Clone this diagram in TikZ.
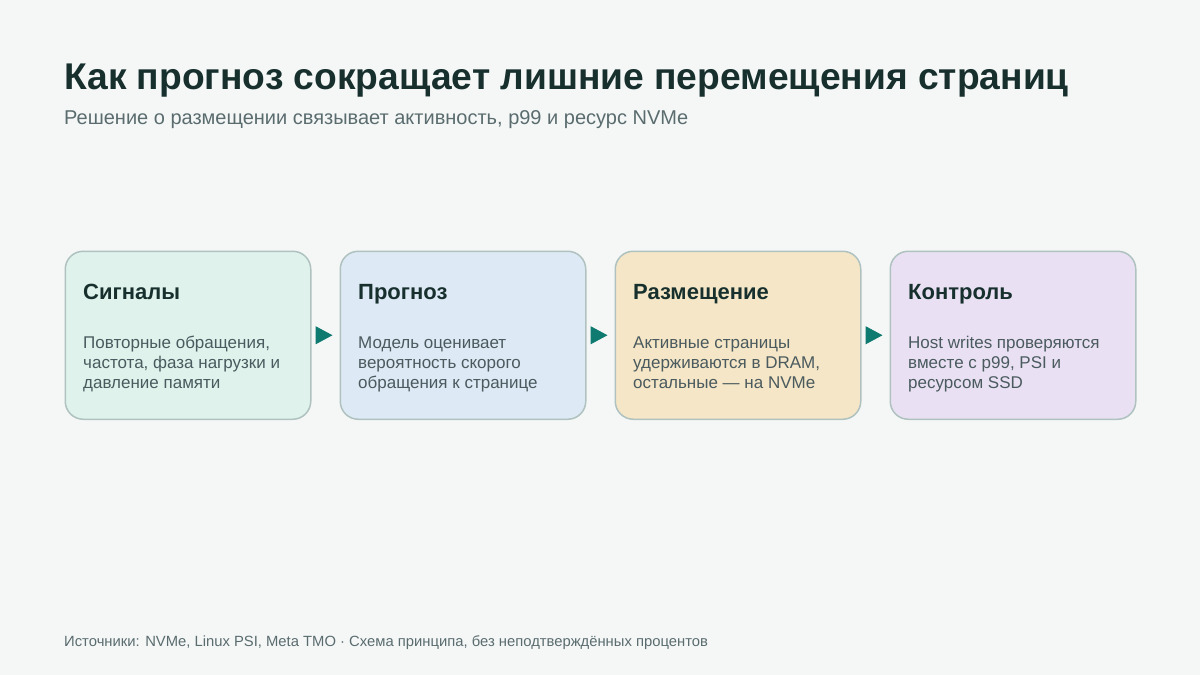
\documentclass[tikz,border=0pt]{standalone}
\usepackage{fontspec}
\setmainfont{Liberation Sans}
\usetikzlibrary{arrows.meta,positioning,calc}

\definecolor{pagebg}{HTML}{F5F7F7}
\definecolor{titlecol}{HTML}{17302E}
\definecolor{subcol}{HTML}{5A6C6E}
\definecolor{bodycol}{HTML}{4A5A5E}
\definecolor{framecol}{HTML}{AFC2BF}
\definecolor{arrowcol}{HTML}{0F7A70}
\definecolor{signalfill}{HTML}{DFF3EC}
\definecolor{forecastfill}{HTML}{DDE9F4}
\definecolor{placefill}{HTML}{F4E6C6}
\definecolor{controlfill}{HTML}{E9E1F3}

\tikzset{
  stagebox/.style={draw=framecol,line width=1.5pt,rounded corners=18pt,
    minimum width=245.5pt,minimum height=168pt,inner sep=0pt},
  stagehead/.style={anchor=base west,inner sep=0pt,text=titlecol,
    font=\fontsize{22}{26}\selectfont\bfseries},
  stagetext/.style={anchor=base west,inner sep=0pt,text=bodycol,align=left,
    font=\fontsize{17}{20}\selectfont},
  flow/.style={-{Triangle[length=17pt,width=18pt]},arrowcol,line width=1pt,
    shorten <=4pt,shorten >=7pt}
}

\begin{document}
\begin{tikzpicture}[x=1pt,y=-1pt]
	\useasboundingbox[fill=pagebg] (0,0) rectangle (1200,675);
	
	% Title and subtitle
	\node[anchor=base west,inner sep=0pt,text=titlecol,
	  font=\fontsize{37.2}{43}\selectfont\bfseries] (title) at (64,89)
	  {Как прогноз сокращает лишние перемещения страниц};
	\node[anchor=base west,inner sep=0pt,text=subcol,
	  font=\fontsize{20}{24}\selectfont] (subtitle) at (64,124)
	  {Решение о размещении связывает активность, p99 и ресурс NVMe};
	
	% Stages
	\node[stagebox,fill=signalfill,anchor=north west] (signals) at (64.5,250.5) {};
	\node[stagebox,fill=forecastfill,right=28pt of signals] (forecast) {};
	\node[stagebox,fill=placefill,right=28pt of forecast] (placement) {};
	\node[stagebox,fill=controlfill,right=28pt of placement] (control) {};
	
	% Headings
	\node[stagehead] at ($(signals.north west)+(18.5,48.5)$) {Сигналы};
	\node[stagehead] at ($(forecast.north west)+(18.5,48.5)$) {Прогноз};
	\node[stagehead] at ($(placement.north west)+(18.5,48.5)$) {Размещение};
	\node[stagehead] at ($(control.north west)+(18.5,48.5)$) {Контроль};
	
	% Descriptions (base = last line)
	\node[stagetext] at ($(signals.north west)+(18.5,137.5)$)
	  {Повторные обращения,\\частота, фаза нагрузки и\\давление памяти};
	\node[stagetext] at ($(forecast.north west)+(18.5,137.5)$)
	  {Модель оценивает\\вероятность скорого\\обращения к странице};
	\node[stagetext] at ($(placement.north west)+(18.5,137.5)$)
	  {Активные страницы\\удерживаются в DRAM,\\остальные — на NVMe};
	\node[stagetext] at ($(control.north west)+(18.5,137.5)$)
	  {Host writes проверяются\\вместе с p99, PSI и\\ресурсом SSD};
	
	% Arrows between stages
	\draw[flow] (signals) -- (forecast);
	\draw[flow] (forecast) -- (placement);
	\draw[flow] (placement) -- (control);
	
	% Footer
	\node[anchor=base west,inner sep=0pt,text=subcol,
	  font=\fontsize{14.8}{18}\selectfont] (sources) at (64,646)
	  {Источники: NVMe, Linux PSI, Meta TMO · Схема принципа, без неподтверждённых процентов};
	
\end{tikzpicture}
\end{document}
